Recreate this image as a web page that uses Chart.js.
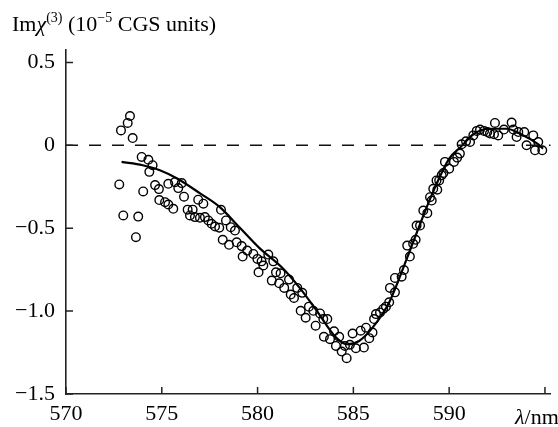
<!DOCTYPE html>
<html><head><meta charset="utf-8">
<script src="https://cdn.jsdelivr.net/npm/chart.js@4"></script>
<style>
html,body{margin:0;padding:0;background:#fff;}
#wrap{position:relative;width:558px;height:427px;overflow:hidden;}
canvas{position:absolute;left:0;top:0;}
.lbl{position:absolute;font-family:"Liberation Serif","DejaVu Serif",serif;font-size:22px;color:#000;white-space:nowrap;line-height:1;}
.lbl sup{font-size:14px;vertical-align:baseline;position:relative;top:-9px;}
#ytitle{left:12px;top:13px;}
#xtitle{left:515px;top:406px;}
</style></head>
<body>
<div id="wrap">
<canvas id="c" width="558" height="427"></canvas>
<div class="lbl" id="ytitle">Im<i>χ</i><sup>(3)</sup> (10<sup>−5</sup> CGS units)</div>
<div class="lbl" id="xtitle"><i>λ</i>/nm</div>
</div>
<script>
// ---- data ----
const xTicks = [570, 575, 580, 585, 590, 595];
const yTicks = [-1.5, -1.0, -0.5, 0, 0.5];

const expX = [572.78,572.87,572.99,573.22,573.34,573.48,573.65,573.77,573.95,574.03,574.30,574.35,574.52,574.65,574.85,574.87,575.17,575.34,575.34,575.60,575.69,575.86,576.04,576.16,576.35,576.47,576.61,576.73,576.90,576.99,577.17,577.25,577.43,577.60,577.78,578.00,578.09,578.18,578.35,578.51,578.60,578.82,578.91,579.17,579.22,579.46,579.78,579.99,580.05,580.21,580.30,580.56,580.74,580.82,580.96,581.13,581.20,581.39,581.64,581.73,581.90,582.07,582.25,582.33,582.51,582.68,582.91,583.03,583.26,583.43,583.46,583.64,583.78,583.99,584.09,584.26,584.39,584.56,584.65,584.82,584.96,585.13,585.38,585.55,585.66,585.83,586.00,586.08,586.18,586.39,586.56,586.70,586.87,586.91,587.17,587.17,587.52,587.64,587.81,587.95,588.12,588.25,588.30,588.48,588.65,588.86,589.00,589.09,589.17,589.34,589.38,589.48,589.61,589.70,589.78,590.00,590.25,590.42,590.56,590.65,590.88,591.09,591.26,591.44,591.61,591.82,591.99,592.13,592.34,592.39,592.56,592.86,593.26,593.35,593.52,593.61,593.92,594.04,594.39,594.48,594.65,594.86];
const expY = [-0.236,0.09,-0.423,0.135,0.177,0.044,-0.554,-0.43,-0.07,-0.278,-0.087,-0.16,-0.12,-0.24,-0.264,-0.33,-0.343,-0.232,-0.357,-0.383,-0.222,-0.258,-0.228,-0.31,-0.388,-0.423,-0.388,-0.433,-0.328,-0.437,-0.352,-0.433,-0.453,-0.473,-0.49,-0.497,-0.389,-0.57,-0.453,-0.60,-0.494,-0.514,-0.585,-0.608,-0.671,-0.635,-0.655,-0.685,-0.766,-0.70,-0.725,-0.659,-0.816,-0.70,-0.766,-0.832,-0.772,-0.86,-0.81,-0.90,-0.921,-0.86,-0.998,-0.89,-1.04,-0.973,-0.998,-1.088,-1.014,-1.048,-1.155,-1.048,-1.169,-1.122,-1.21,-1.155,-1.244,-1.21,-1.284,-1.203,-1.135,-1.224,-1.118,-1.22,-1.10,-1.163,-1.129,-1.048,-1.018,-1.008,-0.987,-0.973,-0.947,-0.86,-0.887,-0.80,-0.792,-0.752,-0.605,-0.671,-0.594,-0.57,-0.484,-0.484,-0.393,-0.409,-0.313,-0.333,-0.262,-0.212,-0.268,-0.212,-0.181,-0.167,-0.10,-0.141,-0.10,-0.074,-0.05,0.006,0.024,0.02,0.06,0.087,0.095,0.087,0.08,0.071,0.067,0.135,0.06,0.095,0.137,0.095,0.05,0.08,0.08,0.0,0.06,-0.03,0.02,-0.03];

const fitX = [572.9,574.0,574.9,575.8,577.0,578.0,579.1,580.1,581.3,582.2,583.1,584.1,584.7,585.3,586.0,586.9,587.8,588.7,589.2,590.0,590.6,591.3,592.1,593.0,593.7,594.6,594.9];
const fitY = [-0.10,-0.12,-0.15,-0.20,-0.29,-0.37,-0.50,-0.62,-0.74,-0.86,-1.00,-1.16,-1.20,-1.18,-1.10,-0.94,-0.68,-0.41,-0.27,-0.08,-0.01,0.07,0.10,0.10,0.07,0.01,-0.02];

const zeroX = [570, 595.3];
const zeroY = [0, 0];

const toXY = (xs, ys) => xs.map((v, i) => ({x: v, y: ys[i]}));

const FONT = {family: '"Liberation Serif","DejaVu Serif",serif', size: 22};

const tickMarks = {
  id: 'tickMarks',
  afterDraw(chart) {
    const {ctx, scales: {x, y}, chartArea: a} = chart;
    ctx.save();
    ctx.strokeStyle = '#222';
    ctx.lineWidth = 1.5;
    ctx.beginPath();
    xTicks.forEach(v => { const p = x.getPixelForValue(v); ctx.moveTo(p, a.bottom); ctx.lineTo(p, a.bottom - 7); });
    yTicks.forEach(v => { const p = y.getPixelForValue(v); ctx.moveTo(a.left, p); ctx.lineTo(a.left + 7, p); });
    ctx.stroke();
    ctx.restore();
  }
};

new Chart(document.getElementById('c'), {
  type: 'scatter',
  data: {
    datasets: [
      {type: 'line', data: toXY(zeroX, zeroY), borderColor: '#111', borderWidth: 1.5, borderDash: [12, 11], pointRadius: 0, fill: false},
      {type: 'line', data: toXY(fitX, fitY), borderColor: '#000', borderWidth: 2.2, pointRadius: 0, cubicInterpolationMode: 'monotone', fill: false},
      {type: 'scatter', data: toXY(expX, expY), pointStyle: 'circle', pointRadius: 4.3, borderWidth: 1.4, borderColor: '#000', backgroundColor: 'rgba(0,0,0,0)'}
    ]
  },
  options: {
    responsive: false,
    animation: false,
    devicePixelRatio: 1,
    layout: {padding: {top: 50, right: 7.3, bottom: 0, left: 0}},
    plugins: {legend: {display: false}, tooltip: {enabled: false}},
    scales: {
      x: {
        type: 'linear', min: 570, max: 595.3,
        afterBuildTicks: s => { s.ticks = xTicks.map(v => ({value: v})); },
        afterFit: s => { s.height = 33; s.paddingLeft = 0; s.paddingRight = 0; },
        ticks: {font: FONT, color: '#000', padding: 7, maxRotation: 0, autoSkip: false,
          callback: v => (v === 595 ? '' : String(v))},
        grid: {display: false, drawTicks: false},
        border: {display: true, color: '#222', width: 1.6}
      },
      y: {
        type: 'linear', min: -1.5, max: 0.575,
        afterBuildTicks: s => { s.ticks = yTicks.map(v => ({value: v})); },
        afterFit: s => { s.width = 66; s.paddingTop = 0; s.paddingBottom = 0; },
        ticks: {font: FONT, color: '#000', padding: 11, autoSkip: false,
          callback: v => (v === 0 ? '0' : (v < 0 ? '\u2212' : '') + Math.abs(v).toFixed(1))},
        grid: {display: false, drawTicks: false},
        border: {display: true, color: '#222', width: 1.6}
      }
    }
  },
  plugins: [tickMarks]
});
</script>
</body></html>
